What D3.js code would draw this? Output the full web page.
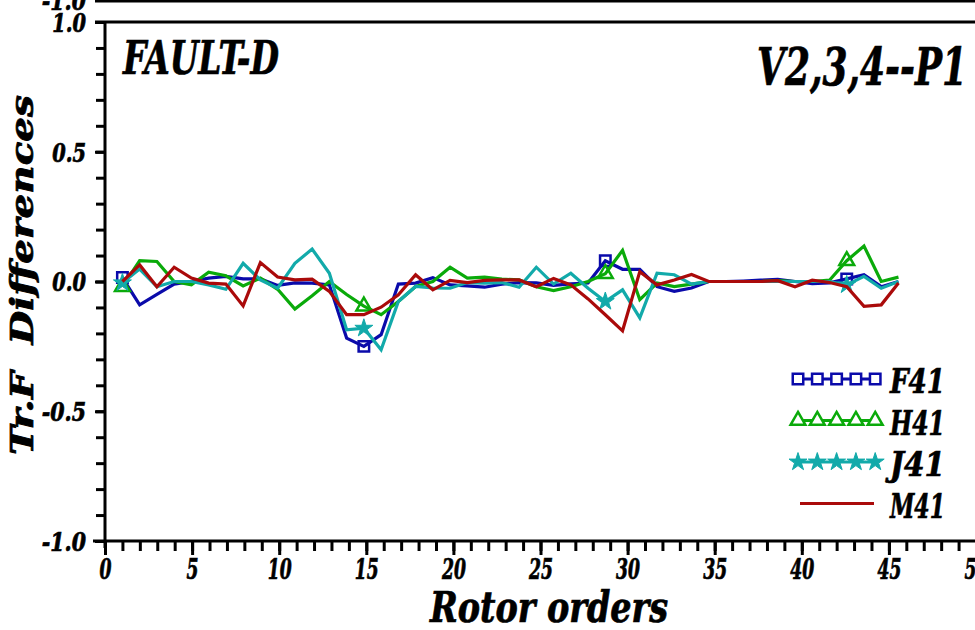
<!DOCTYPE html>
<html>
<head>
<meta charset="utf-8">
<script src="https://cdn.jsdelivr.net/npm/d3@7"></script>
<style>
  body { margin: 0; background: #fff; }
  svg { display: block; }
  text {
    font-family: "DejaVu Serif Condensed", "DejaVu Serif", serif;
    font-weight: bold;
    font-style: italic;
    font-stretch: condensed;
    fill: #000;
    stroke: #000;
    stroke-width: 0.7px;
  }
</style>
</head>
<body>
<svg width="975" height="630"></svg>
<script>

// rotor orders (x) shared by all series
var orders = [1.00, 1.99, 2.98, 3.97, 4.96, 5.95, 6.94, 7.93, 8.92, 9.91,
  10.90, 11.89, 12.88, 13.87, 14.86, 15.85, 16.84, 17.83, 18.82, 19.81,
  20.80, 21.79, 22.78, 23.77, 24.76, 25.75, 26.74, 27.73, 28.72, 29.71,
  30.70, 31.69, 32.68, 33.67, 34.66, 35.65, 36.64, 37.63, 38.62, 39.61,
  40.60, 41.59, 42.58, 43.57, 44.56, 45.55];

var f41 = [0.015, -0.09, -0.05, -0.01, 0.0, 0.013, 0.02, 0.01, 0.01, -0.015,
  -0.005, -0.006, -0.013, -0.218, -0.25, -0.205, -0.01, -0.006, 0.015, -0.013,
  -0.017, -0.022, -0.01, -0.004, -0.005, -0.015, -0.009, -0.006, 0.08, 0.047,
  0.047, -0.02, -0.038, -0.025, 0.0, 0.0, 0.002, 0.005, 0.008, 0.0,
  -0.008, -0.005, 0.01, 0.026, -0.02, 0.0];

var h41 = [-0.02, 0.08, 0.077, 0.0, -0.013, 0.036, 0.022, -0.017, 0.013, -0.03,
  -0.106, -0.055, 0.0, -0.05, -0.095, -0.128, -0.077, -0.019, 0.0, 0.055,
  0.013, 0.017, 0.009, 0.006, -0.02, -0.035, -0.02, 0.0, 0.03, 0.12,
  -0.07, -0.006, -0.02, -0.01, 0.0, 0.0, 0.0, 0.0, 0.003, 0.0,
  0.0, 0.005, 0.08, 0.137, 0.0, 0.017];

var j41 = [-0.005, 0.048, -0.02, 0.0, 0.0, -0.013, -0.03, 0.07, 0.006, -0.026,
  0.07, 0.125, 0.032, -0.186, -0.18, -0.263, -0.077, -0.019, -0.025, -0.026,
  -0.004, -0.006, -0.004, -0.022, 0.055, -0.01, 0.032, -0.026, -0.077, -0.032,
  -0.14, 0.032, 0.026, -0.01, 0.0, 0.0, 0.0, 0.0, 0.0, 0.0,
  0.0, 0.0, -0.013, 0.02, -0.026, 0.0];

var m41 = [0.0, 0.064, -0.02, 0.055, 0.013, -0.006, -0.01, -0.094, 0.073, 0.017,
  0.006, 0.009, -0.038, -0.128, -0.128, -0.099, -0.051, 0.026, -0.032, 0.004,
  -0.004, 0.004, 0.006, 0.006, -0.02, 0.012, -0.013, -0.067, -0.128, -0.19,
  0.038, -0.013, 0.006, 0.027, 0.0, 0.0, 0.0, 0.0, 0.003, -0.02,
  0.005, -0.004, -0.02, -0.096, -0.09, -0.006];

var seriesNames = ["F41", "H41", "J41", "M41"];
var seriesColors = ["#0a0aaa", "#0aaa0a", "#12aaaa", "#aa0a0a"];

var xTickValues = [0, 5, 10, 15, 20, 25, 30, 35, 40, 45, 50];
var xTickLabels = ["0", "5", "10", "15", "20", "25", "30", "35", "40", "45", "50"];
var yTickValues = [-1, -0.5, 0, 0.5, 1];
var yTickLabels = ["-1.0", "-0.5", "0.0", "0.5", "1.0"];

var svg = d3.select("svg");

var x = d3.scaleLinear().domain([0, 50]).range([105, 976]);
var y = d3.scaleLinear().domain([-1, 1]).range([541, 22]);

var symbols = [d3.symbolSquare, d3.symbolTriangle, d3.symbolStar, null];
var symbolSize = [110, 95, 100, 0];
var symbolFilled = [false, false, true, false];
var markerEvery = 14;

var series = seriesNames.map(function(name, k) {
  var vals = [f41, h41, j41, m41][k];
  return {
    name: name,
    color: seriesColors[k],
    symbol: symbols[k],
    values: vals.map(function(v, i) { return {order: orders[i], value: v, i: i}; })
  };
});

// width of a label in the (narrow) plot font
function labelWidth(s, digitW) {
  var w = 0;
  for (var c of s) w += c === "." ? digitW * 0.6 : c === "-" ? digitW * 0.8 : digitW;
  return w;
}
function fit(sel, w) {
  sel.attr("textLength", w).attr("lengthAdjust", "spacingAndGlyphs");
}

// piece of the panel above (cut by the page edge)
svg.append("line")
  .attr("x1", 95).attr("x2", 975).attr("y1", 1).attr("y2", 1)
  .attr("stroke", "#000").attr("stroke-width", 3);
svg.append("text")
  .attr("x", 86).attr("y", 1).attr("dy", "0.36em")
  .attr("text-anchor", "end").attr("font-size", 26)
  .text("-1.0")
  .call(fit, labelWidth("-1.0", 13));

// minor ticks
var xMinor = svg.append("g")
  .attr("transform", "translate(0," + y(-1) + ")")
  .call(d3.axisBottom(x).tickValues(d3.range(0, 51)).tickSize(10).tickSizeOuter(0).tickFormat(""));
var xMajor = svg.append("g")
  .attr("transform", "translate(0," + y(-1) + ")")
  .call(d3.axisBottom(x).tickValues(xTickValues).tickSize(14).tickSizeOuter(0)
    .tickFormat(function(d, i) { return xTickLabels[i]; }));
var yMinor = svg.append("g")
  .attr("transform", "translate(" + x(0) + ",0)")
  .call(d3.axisLeft(y).tickValues(d3.range(-10, 11).map(function(k) { return k / 10; }))
    .tickSize(9).tickSizeOuter(0).tickFormat(""));
var yMajor = svg.append("g")
  .attr("transform", "translate(" + x(0) + ",0)")
  .call(d3.axisLeft(y).tickValues(yTickValues).tickSize(10).tickSizeOuter(0)
    .tickFormat(function(d, i) { return yTickLabels[i]; }));

svg.selectAll(".domain").remove();
svg.selectAll(".tick line").attr("stroke", "#000").attr("stroke-width", 3);

xMajor.selectAll("text")
  .attr("y", 18).attr("dy", "0.71em")
  .attr("font-size", 28)
  .each(function() { d3.select(this).call(fit, labelWidth(this.textContent, 12)); });
xMajor.attr("font-family", null).attr("font-size", null);

yMajor.selectAll("text")
  .attr("x", -19).attr("dy", "0.36em")
  .attr("font-size", 26)
  .each(function() { d3.select(this).call(fit, labelWidth(this.textContent, 13)); });
yMajor.attr("font-family", null).attr("font-size", null);
xMinor.attr("font-family", null);
yMinor.attr("font-family", null);

// frame: bottom axis, left axis, top border
svg.append("line")
  .attr("x1", 93).attr("x2", 975).attr("y1", y(-1)).attr("y2", y(-1))
  .attr("stroke", "#000").attr("stroke-width", 3);
svg.append("line")
  .attr("x1", x(0)).attr("x2", x(0)).attr("y1", y(1)).attr("y2", y(-1) + 7)
  .attr("stroke", "#000").attr("stroke-width", 3);
svg.append("line")
  .attr("x1", 95).attr("x2", 975).attr("y1", y(1)).attr("y2", y(1))
  .attr("stroke", "#000").attr("stroke-width", 3);

// series
var line = d3.line()
  .x(function(d) { return x(d.order); })
  .y(function(d) { return y(d.value); });

var g = svg.append("g");

series.forEach(function(s, k) {
  g.append("path")
    .datum(s.values)
    .attr("d", line)
    .attr("fill", "none")
    .attr("stroke", s.color)
    .attr("stroke-width", 3.2);

  if (!s.symbol) return;
  g.selectAll(".mk" + k)
    .data(s.values.filter(function(d) { return d.i % markerEvery === 0; }))
    .enter().append("path")
      .attr("class", "mk" + k)
      .attr("transform", function(d) { return "translate(" + x(d.order) + "," + y(d.value) + ")"; })
      .attr("d", d3.symbol().type(s.symbol).size(symbolSize[k]))
      .attr("fill", symbolFilled[k] ? s.color : "none")
      .attr("stroke", s.color)
      .attr("stroke-width", symbolFilled[k] ? 1 : 2.5);
});

// legend
var legend = svg.append("g");
series.forEach(function(s, k) {
  var ly = 379 + k * 41.5;
  var row = legend.append("g").attr("transform", "translate(0," + ly + ")");
  row.append("line")
    .attr("x1", s.symbol ? 796 : 800).attr("x2", s.symbol ? 877 : 874)
    .attr("stroke", s.color).attr("stroke-width", 3.2);
  if (s.symbol) {
    row.selectAll("path")
      .data(d3.range(5))
      .enter().append("path")
        .attr("transform", function(j) { return "translate(" + (798 + j * 19.3) + ",0)"; })
        .attr("d", d3.symbol().type(s.symbol).size(symbolSize[k]))
        .attr("fill", symbolFilled[k] ? s.color : "#fff")
        .attr("stroke", s.color)
        .attr("stroke-width", symbolFilled[k] ? 1 : 2.5);
  }
  row.append("text")
    .attr("x", 890).attr("y", 14)
    .attr("font-size", 34)
    .text(s.name)
    .call(fit, 55);
});

// titles
svg.append("text")
  .attr("x", 123).attr("y", 74)
  .attr("font-size", 46)
  .text("FAULT-D")
  .call(fit, 156);

svg.append("text")
  .attr("x", 757).attr("y", 85)
  .attr("font-size", 52)
  .text("V2,3,4--P1")
  .call(fit, 210);

svg.append("text")
  .attr("x", 430).attr("y", 622)
  .attr("font-size", 42)
  .text("Rotor orders")
  .call(fit, 238);

svg.append("text")
  .attr("transform", "translate(33,275) rotate(-90)")
  .attr("text-anchor", "middle")
  .attr("font-size", 32)
  .style("white-space", "pre")
  .text("Tr.F  Differences")
  .call(fit, 360);

</script>
</body>
</html>
